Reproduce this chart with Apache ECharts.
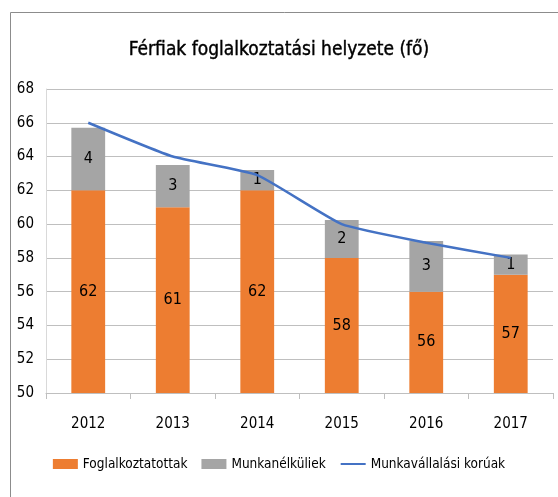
<!DOCTYPE html>
<html><head><meta charset="utf-8">
<script src="https://cdn.jsdelivr.net/npm/echarts@6/dist/echarts.min.js"></script>
<style>html,body{margin:0;padding:0;background:#fff}#c{width:558px;height:497px}</style>
</head><body><div id="c"></div>
<script>
const years = ['2012','2013','2014','2015','2016','2017'];
const employed = [62, 61, 62, 58, 56, 57];
const unemployed = [3.7, 2.5, 1.2, 2.25, 3.0, 1.2];
const workingAge = [66, 64, 62.9, 60, 58.9, 58];
const FONT = '"Liberation Sans Narrow","DejaVu Sans Condensed","Liberation Sans",sans-serif';
const chart = echarts.init(document.getElementById('c'));
chart.setOption({
  animation:false,
  textStyle:{fontFamily:FONT},
  title:{text:'Férfiak foglalkoztatási helyzete (fő)',left:'center',top:36,
    textStyle:{fontFamily:FONT,fontSize:19,fontWeight:'normal',color:'#000',textBorderColor:'#000',textBorderWidth:0.4}},
  graphic:[{type:'polyline',shape:{points:[[10.5,497],[10.5,12.5],[558,12.5]]},
    style:{stroke:'#8c8c8c',lineWidth:1,fill:null}}],
  grid:{left:46,right:5,top:89,bottom:104},
  legend:{bottom:21,left:'center',itemGap:14,itemWidth:25,itemHeight:10,
    textStyle:{fontFamily:FONT,fontSize:13.5,color:'#000'},
    data:[{name:'Foglalkoztatottak',icon:'rect'},{name:'Munkanélküliek',icon:'rect'},
      {name:'Munkavállalási korúak',itemStyle:{opacity:0}}]},
  xAxis:{type:'category',data:years,boundaryGap:true,
    axisLine:{lineStyle:{color:'#bfbfbf'}},
    axisTick:{show:true,length:6,lineStyle:{color:'#bfbfbf'}},
    axisLabel:{color:'#000',fontSize:15,margin:24,fontFamily:FONT}},
  yAxis:{type:'value',min:50,max:68,interval:2,
    axisLine:{show:true,lineStyle:{color:'#d9d9d9'}},
    axisTick:{show:false},
    splitLine:{lineStyle:{color:'#bfbfbf'}},
    axisLabel:{color:'#000',fontSize:15,margin:12,fontFamily:FONT}},
  series:[
    {name:'Foglalkoztatottak',type:'bar',stack:'a',data:employed,barWidth:'40%',
      itemStyle:{color:'#ED7D31'},
      label:{show:true,position:'inside',color:'#000',fontSize:16,fontFamily:FONT,
        formatter:p=>Math.round(p.value)}},
    {name:'Munkanélküliek',type:'bar',stack:'a',data:unemployed,barWidth:'40%',
      itemStyle:{color:'#A5A5A5'},
      label:{show:true,position:'inside',color:'#000',fontSize:16,fontFamily:FONT,
        formatter:p=>Math.round(p.value)}},
    {name:'Munkavállalási korúak',type:'line',data:workingAge,smooth:0.15,
      symbol:'none',lineStyle:{color:'#4472C4',width:2.5},itemStyle:{color:'#4472C4'}}
  ]
});
</script></body></html>
